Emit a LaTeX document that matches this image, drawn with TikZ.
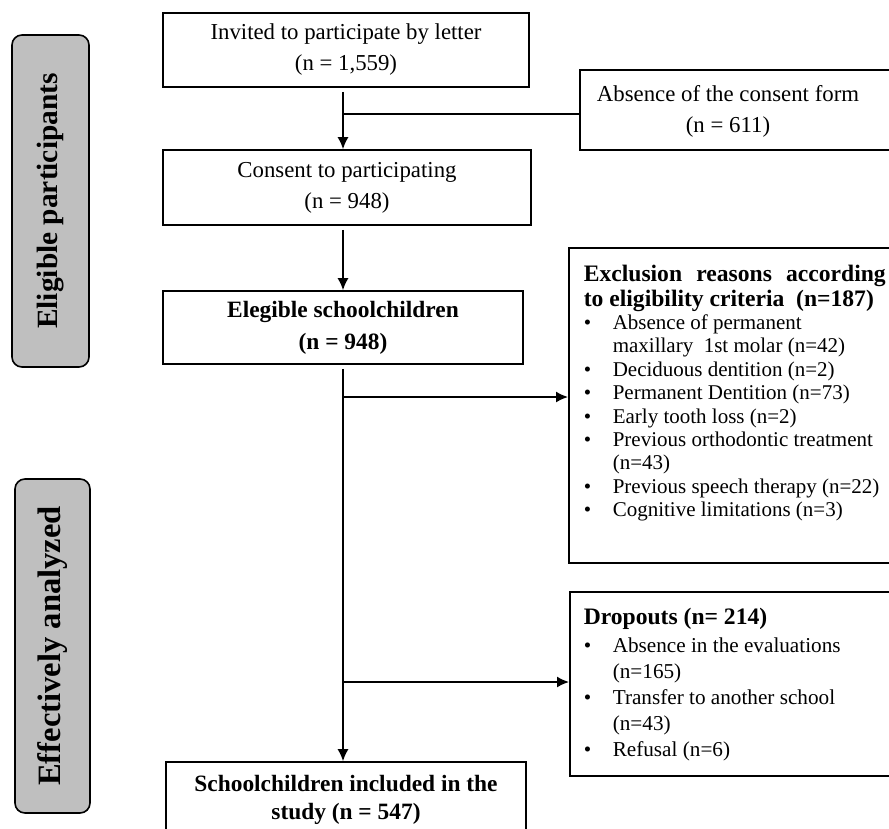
\documentclass[tikz,border=0pt]{standalone}
\usepackage{fontspec}
\setmainfont{Liberation Serif}
\usetikzlibrary{arrows.meta,positioning}
\definecolor{phasegray}{RGB}{191,191,191}
\newcommand{\bitem}{\makebox[14.5pt][l]{\textbullet}}
\newcommand{\bskip}{\hspace*{14.5pt}}

\begin{document}
\begin{tikzpicture}[x=0.5pt,y=-0.5pt,line width=0.8pt,>={Latex[length=6pt,width=5.5pt]},
  mainbox/.style={draw,align=center,inner sep=0pt,font=\fontsize{11.4}{15.5}\selectfont},
  boldbox/.style={draw,align=center,inner sep=0pt,font=\fontsize{11.7}{16}\selectfont\bfseries},
  outbox/.style={draw,inner sep=0pt,anchor=north west},
  listtext/.style={anchor=north west,inner sep=0pt,align=left},
  phase/.style={draw,fill=phasegray,rounded corners=5pt,rotate=90,inner sep=0pt}]
  \clip (0,0) rectangle (889,829);

  \node (elig) [phase,minimum width=166pt,minimum height=38.5pt,font=\fontsize{14.7}{16}\selectfont\bfseries] at (50.5,201) {Eligible participants};
  \node (effect) [phase,minimum width=167pt,minimum height=37.5pt,font=\fontsize{16.3}{18}\selectfont\bfseries] at (52.5,646) {Effectively analyzed};

  \node (invited) [mainbox,minimum width=183pt,minimum height=37pt] at (346,50) {Invited to participate by letter\\(n = 1,559)};
  \node (consent) [mainbox,minimum width=184pt,minimum height=37.5pt] at (347,187.5) {Consent to participating\\(n = 948)};
  \node (eligible) [boldbox,minimum width=180pt,minimum height=36.5pt] at (343,327.5) {Elegible schoolchildren\\(n = 948)};
  \node (included) [boldbox,minimum width=180pt,minimum height=38pt,font=\fontsize{11.7}{14}\selectfont\bfseries] at (346,800) {Schoolchildren included in the\\study (n = 547)};

  \node (absent) [outbox,minimum width=170pt,minimum height=40pt] at (579,69) {};
  \node (absenttxt) [align=center,inner sep=0pt,font=\fontsize{11.4}{15.5}\selectfont] at (728,111) {Absence of the consent form\\(n = 611)};

  \node (excl) [outbox,minimum width=170pt,minimum height=157.5pt] at (568,247) {};
  \node (excltxt) [listtext,font=\fontsize{10.5}{11.7}\selectfont] at (583,264) {%
    {\fontsize{11.8}{12.5}\selectfont\bfseries\makebox[151pt][s]{Exclusion\hfill reasons\hfill according}}\\[0.8pt]
    {\fontsize{11.8}{12.5}\selectfont\bfseries to eligibility criteria\ \ (n=187)}\\
    \bitem Absence of permanent\\
    \bskip maxillary\ \ 1st molar\ (n=42)\\
    \bitem Deciduous dentition (n=2)\\
    \bitem Permanent Dentition (n=73)\\
    \bitem Early\ tooth loss (n=2)\\
    \bitem Previous orthodontic treatment\\
    \bskip (n=43)\\
    \bitem Previous speech therapy (n=22)\\
    \bitem Cognitive limitations\ (n=3)};

  \node (drop) [outbox,minimum width=170pt,minimum height=92pt] at (569,591) {};
  \node (droptxt) [listtext,font=\fontsize{10.6}{13}\selectfont] at (583,607) {%
    {\fontsize{11.8}{13}\selectfont\bfseries Dropouts (n= 214)}\\[1pt]
    \bitem Absence in the evaluations\\
    \bskip (n=165)\\
    \bitem Transfer to another school\\
    \bskip (n=43)\\
    \bitem Refusal (n=6)};

  \coordinate (spine) at (343,0);
  \coordinate (split1) at (343,114);
  \coordinate (split2) at (343,397);
  \coordinate (split3) at (343,682);

  \draw [->] ([yshift=-2pt]invited.south -| spine) -- (consent.north -| spine);
  \draw (split1) -- (split1 -| absent.west);
  \draw [->] ([yshift=-2pt]consent.south -| spine) -- (eligible.north -| spine);
  \draw [->] ([yshift=-2pt]eligible.south -| spine) -- (included.north -| spine);
  \draw [->] (split2) -- (split2 -| excl.west);
  \draw [->] (split3) -- (split3 -| drop.west);

\end{tikzpicture}
\end{document}
